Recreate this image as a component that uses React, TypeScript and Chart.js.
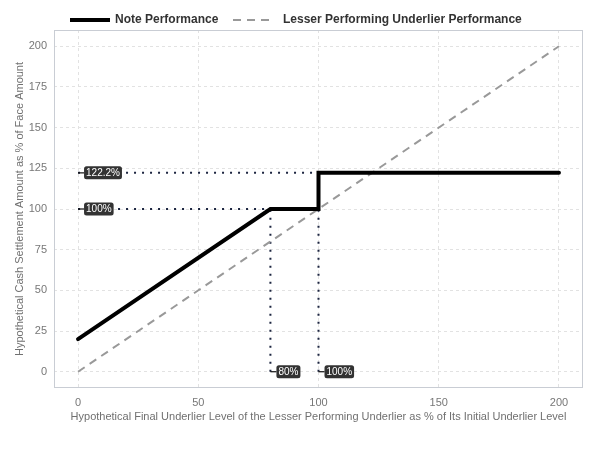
import React, { useEffect, useRef } from "react";
import { Chart, registerables } from "chart.js";

Chart.register(...registerables);

const noteX = [0, 80, 100, 100, 200];
const noteY = [20, 100, 100, 122.2, 122.2];
const underX = [0, 200];
const underY = [0, 200];
const refHoriz = [
  { y: 122.2, x0: 0, x1: 100, label: "122.2%" },
  { y: 100, x0: 0, x1: 80, label: "100%" },
];
const refVert = [
  { x: 80, y0: 0, y1: 100, label: "80%" },
  { x: 100, y0: 0, y1: 122.2, label: "100%" },
];
const xTicks = [0, 50, 100, 150, 200];
const yTicks = [0, 25, 50, 75, 100, 125, 150, 175, 200];
const legendItems = ["Note Performance", "Lesser Performing Underlier Performance"];
const xTitle = "Hypothetical Final Underlier Level of the Lesser Performing Underlier as % of Its Initial Underlier Level";
const yTitle = "Hypothetical Cash Settlement Amount as % of Face Amount";

const FONT = "'Liberation Sans', Arial, Helvetica, sans-serif";
const DOT_COLOR = "#1c2540";

function roundRect(ctx: CanvasRenderingContext2D, x: number, y: number, w: number, h: number, r: number) {
  ctx.beginPath();
  ctx.moveTo(x + r, y);
  ctx.lineTo(x + w - r, y);
  ctx.quadraticCurveTo(x + w, y, x + w, y + r);
  ctx.lineTo(x + w, y + h - r);
  ctx.quadraticCurveTo(x + w, y + h, x + w - r, y + h);
  ctx.lineTo(x + r, y + h);
  ctx.quadraticCurveTo(x, y + h, x, y + h - r);
  ctx.lineTo(x, y + r);
  ctx.quadraticCurveTo(x, y, x + r, y);
  ctx.closePath();
}

const framePlugin = {
  id: "frame",
  beforeDatasetsDraw(chart: any) {
    const { ctx, chartArea } = chart;
    ctx.save();
    ctx.strokeStyle = "#c9cdd4";
    ctx.lineWidth = 1;
    ctx.strokeRect(chartArea.left + 0.5, chartArea.top + 0.5, chartArea.right - chartArea.left - 1, chartArea.bottom - chartArea.top - 1);
    ctx.restore();
  },
};

const labelsPlugin = {
  id: "refLabels",
  afterDatasetsDraw(chart: any) {
    const { ctx } = chart;
    const xs = chart.scales.x;
    const ys = chart.scales.y;
    const pts: { px: number; py: number; label: string }[] = [];
    refHoriz.forEach((r) => pts.push({ px: xs.getPixelForValue(r.x0), py: ys.getPixelForValue(r.y), label: r.label }));
    refVert.forEach((r) => pts.push({ px: xs.getPixelForValue(r.x), py: ys.getPixelForValue(r.y0), label: r.label }));
    ctx.save();
    ctx.font = `10px ${FONT}`;
    ctx.textBaseline = "middle";
    ctx.textAlign = "left";
    pts.forEach((p) => {
      const w = ctx.measureText(p.label).width + 4;
      const h = 13;
      const bx = p.px + 6;
      ctx.strokeStyle = "#111";
      ctx.lineWidth = 1.2;
      ctx.beginPath();
      ctx.moveTo(p.px, p.py);
      ctx.lineTo(bx, p.py);
      ctx.stroke();
      ctx.fillStyle = "#333333";
      roundRect(ctx, bx, p.py - h / 2, w, h, 2.5);
      ctx.fill();
      ctx.fillStyle = "#ffffff";
      ctx.fillText(p.label, bx + 2, p.py + 0.5);
    });
    ctx.restore();
  },
};

const legendPlugin = {
  id: "customLegend",
  afterDraw(chart: any) {
    const { ctx } = chart;
    ctx.save();
    const y = 20;
    ctx.font = `bold 12px ${FONT}`;
    ctx.textBaseline = "middle";
    ctx.fillStyle = "#333333";
    // item 1
    ctx.strokeStyle = "#000";
    ctx.lineWidth = 4;
    ctx.setLineDash([]);
    ctx.beginPath();
    ctx.moveTo(70, y);
    ctx.lineTo(110, y);
    ctx.stroke();
    ctx.fillText(legendItems[0], 115, y);
    // item 2
    ctx.strokeStyle = "#999999";
    ctx.lineWidth = 2;
    ctx.setLineDash([8, 6]);
    ctx.beginPath();
    ctx.moveTo(233, y);
    ctx.lineTo(273, y);
    ctx.stroke();
    ctx.setLineDash([]);
    ctx.fillText(legendItems[1], 283, y);
    ctx.restore();
  },
};

export default function App() {
  const ref = useRef<HTMLCanvasElement | null>(null);
  useEffect(() => {
    document.body.style.margin = "0";
    const canvas = ref.current;
    if (!canvas) return;
    const dotted = (pts: { x: number; y: number }[]) => ({
      type: "line" as const,
      data: pts,
      borderColor: DOT_COLOR,
      borderWidth: 2,
      borderDash: [2, 6],
      pointRadius: 0,
      fill: false,
      order: 3,
    });
    const datasets: any[] = [
      {
        label: legendItems[0],
        data: noteX.map((x, i) => ({ x, y: noteY[i] })),
        borderColor: "#000",
        borderWidth: 4,
        borderCapStyle: "round",
        pointRadius: 0,
        fill: false,
        order: 1,
      },
      {
        label: legendItems[1],
        data: underX.map((x, i) => ({ x, y: underY[i] })),
        borderColor: "#999999",
        borderWidth: 2,
        borderDash: [8, 6],
        pointRadius: 0,
        fill: false,
        order: 2,
      },
      ...refHoriz.map((r) => dotted([{ x: r.x0, y: r.y }, { x: r.x1, y: r.y }])),
      ...refVert.map((r) => dotted([{ x: r.x, y: r.y0 }, { x: r.x, y: r.y1 }])),
    ];
    const chart = new Chart(canvas, {
      type: "line",
      data: { datasets },
      options: {
        responsive: false,
        animation: false,
        layout: { padding: { top: 30, right: 17, bottom: 0, left: 0 } },
        plugins: { legend: { display: false }, tooltip: { enabled: false } },
        elements: { line: { tension: 0 } },
        scales: {
          x: {
            type: "linear",
            min: -10,
            max: 210,
            afterBuildTicks: (s: any) => {
              s.ticks = xTicks.map((v) => ({ value: v }));
            },
            afterFit: (s: any) => {
              s.height = 62;
            },
            grid: { color: "#e2e2e2", borderDash: [3, 3], drawTicks: false, tickBorderDash: [3, 3] } as any,
            border: { display: false, dash: [3, 3] },
            ticks: { color: "#777", font: { size: 11, family: FONT }, padding: 8 },
            title: {
              display: true,
              text: xTitle,
              color: "#707070",
              font: { size: 11, family: FONT },
              padding: { top: 0, bottom: 26 },
            },
          },
          y: {
            type: "linear",
            min: -10,
            max: 210,
            afterBuildTicks: (s: any) => {
              s.ticks = yTicks.map((v) => ({ value: v }));
            },
            afterFit: (s: any) => {
              s.width = 54;
            },
            grid: { color: "#e2e2e2", drawTicks: false } as any,
            border: { display: false, dash: [3, 3] },
            ticks: { color: "#777", font: { size: 11, family: FONT }, padding: 7 },
            title: {
              display: true,
              text: yTitle,
              color: "#707070",
              font: { size: 11, family: FONT },
              padding: { top: 13, bottom: 0 },
            },
          },
        },
      },
      plugins: [framePlugin, labelsPlugin, legendPlugin],
    });
    // dashed grid
    (chart.options.scales as any).x.border.dash = [3, 3];
    return () => chart.destroy();
  }, []);
  return (
    <div style={{ width: 600, height: 450, background: "#fff" }}>
      <canvas ref={ref} width={600} height={450} style={{ display: "block" }} />
    </div>
  );
}
